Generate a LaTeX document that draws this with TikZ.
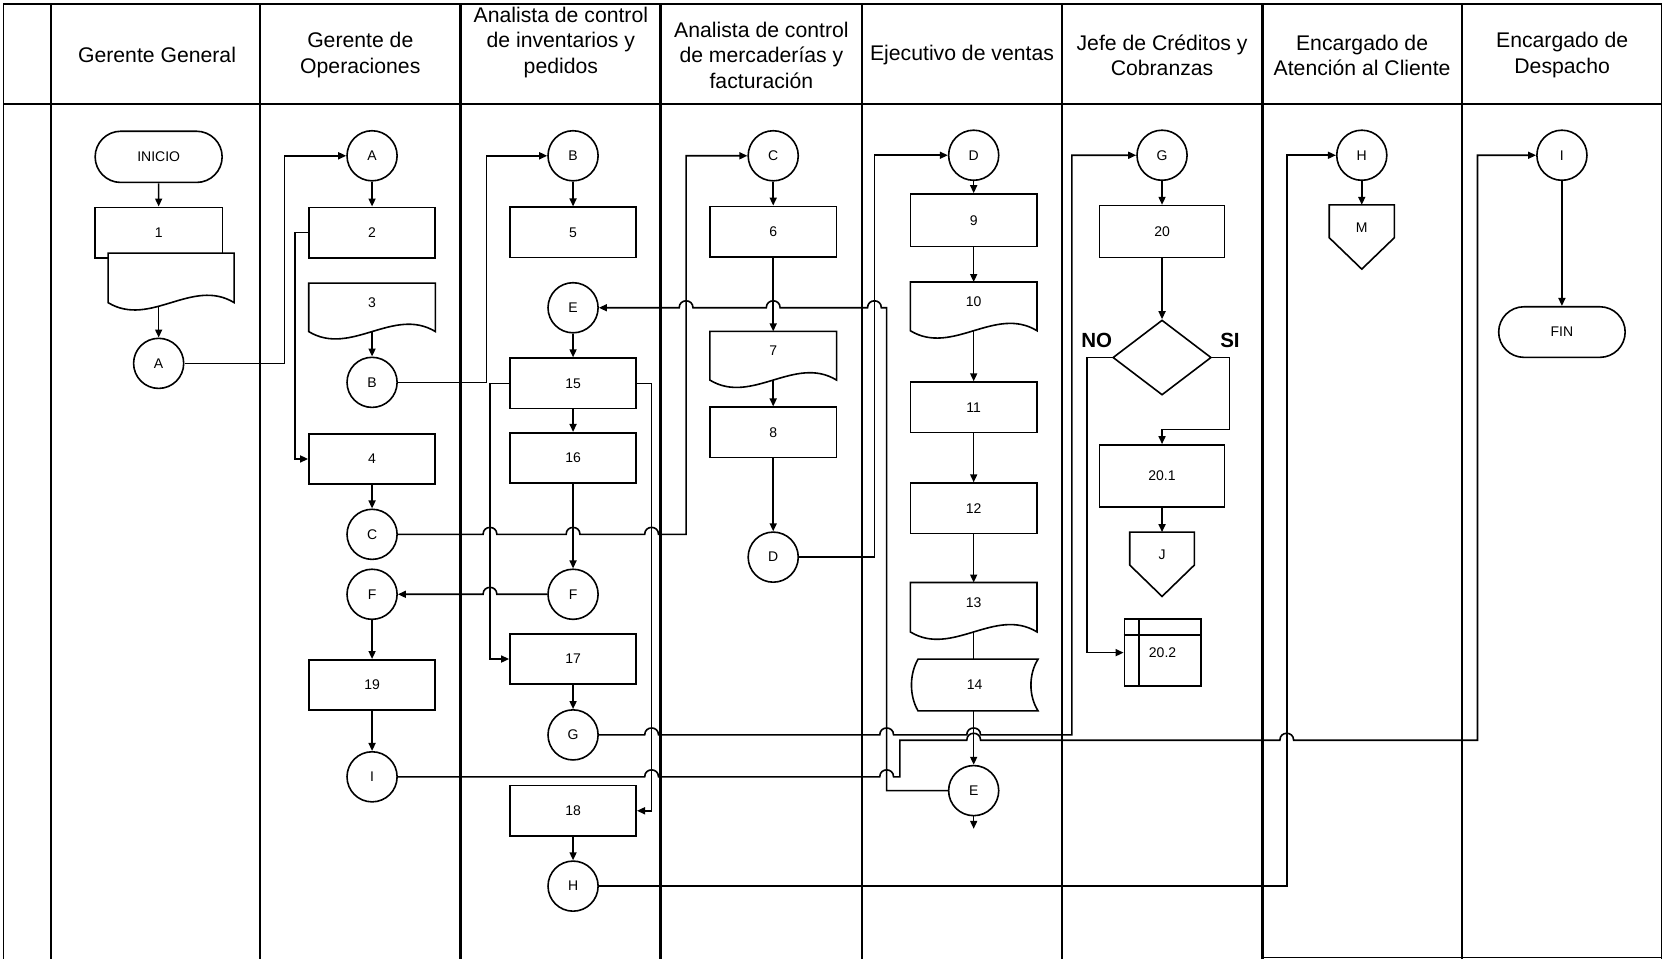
\documentclass[tikz,border=0pt]{standalone}
\usepackage{fontspec}
\setmainfont{Liberation Sans}
\usetikzlibrary{arrows.meta,shapes.geometric,shapes.misc,calc}

% outline of a document symbol drawn on a named placeholder node
\newcommand\docoutline[2][]{\draw[outline,#1] (#2.north west) -- (#2.north east) -- (#2.south east)
  .. controls ($(#2.south east)+(-39.5,-24)$) and ($(#2.south west)+(39.5,24)$) .. (#2.south west) -- cycle;}
% off-page connector (pentagon pointing down)
\newcommand\offpage[1]{\draw[outline] (#1.north west) -- (#1.north east) -- ($(#1.north east)+(0,31)$)
  -- ($(#1.north)+(0,60.6)$) -- ($(#1.north west)+(0,31)$) -- cycle;}

\begin{document}
\begin{tikzpicture}[x=1.0612pt,y=-1.0612pt,
  lanerule/.style={line width=2.4pt},
  thinrule/.style={line width=1.1pt},
  outline/.style={line width=1.6pt},
  conn/.style={line width=1.6pt},
  arr/.style={conn,-{Triangle[length=8pt,width=7pt]}},
  lbl/.style={font=\fontsize{14}{16}\selectfont},
  head/.style={align=center,font=\fontsize{21.2}{25.5}\selectfont,inner sep=0pt},
  proc/.style={draw,rectangle,line width=1.6pt,minimum width=126.3pt,minimum height=50.4pt,inner sep=0pt,lbl},
  conec/.style={draw,circle,line width=1.6pt,minimum size=50.1pt,inner sep=0pt,lbl},
  term/.style={draw,rounded rectangle,line width=1.6pt,minimum width=127pt,minimum height=51.2pt,inner sep=0pt,lbl},
  ghost/.style={rectangle,inner sep=0pt,lbl},
  docbox/.style={ghost,minimum width=126.3pt,minimum height=48.3pt},
  hopr/.style 2 args={insert path={-- ({#1-6.5},#2) .. controls ({#1-6.5},{#2-8.7}) and ({#1+6.5},{#2-8.7}) .. ({#1+6.5},#2)}},
  hopl/.style 2 args={insert path={-- ({#1+6.5},#2) .. controls ({#1+6.5},{#2-8.7}) and ({#1-6.5},{#2-8.7}) .. ({#1-6.5},#2)}},
]
\useasboundingbox (0,0) rectangle (1568,904);

% ---------- swimlane frame ----------
\draw[lanerule] (3,4) -- (1566,4);
\draw[lanerule] (3,98) -- (1566,98);
\draw[thinrule] (3,4) -- (3,904);
\foreach \x in {48,245,434,622.5,812,1000.5,1189.5,1377.5}
  \draw[lanerule] (\x,4) -- (\x,904);
\draw[thinrule] (1566,4) -- (1566,904);
\draw[line width=0.8pt] (1189.5,902) -- (1566,902);

% ---------- lane headers ----------
\node[head] (h1) at (148,52) {Gerente General};
\node[head] (h2) at (339.5,52) {Gerente de\\Operaciones};
\node[head] (h3) at (528.5,40) {Analista de control\\de inventarios y\\pedidos};
\node[head] (h4) at (717.5,52) {Analista de control\\de mercaderías y\\facturación};
\node[head] (h5) at (906.5,52) {Ejecutivo de ventas};
\node[head] (h6) at (1095,52) {Jefe de Créditos y\\Cobranzas};
\node[head] (h7) at (1283.5,52) {Encargado de\\Atención al Cliente};
\node[head] (h8) at (1472,52) {Encargado de\\Despacho};

% ---------- Gerente General ----------
\node[term] (ini) at (149.5,147.8) {INICIO};
\node[proc,minimum width=127.3pt] (p1) at (149.5,219.1) {1};
\node[ghost,minimum width=125.7pt,minimum height=49.1pt] (d1) at (161.25,261.85) {};
\docoutline[fill=white]{d1}
\coordinate (d1out) at (149.5,288.4);
\node[conec] (cA1) at (149.5,342.4) {A};

% ---------- Gerente de Operaciones ----------
\node[conec] (cA2) at (350.6,146.8) {A};
\node[proc] (p2) at (350.6,219.1) {2};
\node[docbox,minimum height=48.1pt,label={[lbl,yshift=4.6pt]center:3}] (d3) at (350.6,289.6) {};
\docoutline{d3}
\node[conec] (cB2) at (350.6,360.3) {B};
\node[proc] (p4) at (350.6,432.5) {4};
\node[conec] (cC2) at (350.6,503.5) {C};
\node[conec] (cF2) at (350.6,560) {F};
\node[proc] (p19) at (350.6,645.5) {19};
\node[conec] (cI2) at (350.6,732) {I};

% ---------- Analista de control de inventarios y pedidos ----------
\node[conec] (cB3) at (540,146.8) {B};
\node[proc] (p5) at (540,219) {5};
\node[conec] (cE3) at (540,290) {E};
\node[proc] (p15) at (540,361.2) {15};
\node[proc] (p16) at (540,431.5) {16};
\node[conec] (cF3) at (540,560) {F};
\node[proc] (p17) at (540,621) {17};
\node[conec] (cG3) at (540,692.5) {G};
\node[proc] (p18) at (540,764) {18};
\node[conec] (cH3) at (540,835) {H};

% ---------- Analista de control de mercaderias y facturacion ----------
\node[conec] (cC4) at (728.6,146.8) {C};
\node[proc] (p6) at (728.6,218.2) {6};
\node[docbox,label={[lbl,yshift=4.6pt]center:7}] (d7) at (728.6,335.2) {};
\docoutline{d7}
\node[proc] (p8) at (728.6,407.5) {8};
\node[conec] (cD4) at (728.6,525) {D};

% ---------- Ejecutivo de ventas ----------
\node[conec] (cD5) at (917.5,146.3) {D};
\node[proc,minimum height=52.6pt] (p9) at (917.5,207.6) {9};
\node[docbox,label={[lbl,yshift=4.6pt]center:10}] (d10) at (917.5,288.7) {};
\docoutline{d10}
\node[proc] (p11) at (917.5,383.8) {11};
\node[proc] (p12) at (917.5,479) {12};
\node[docbox,minimum height=49pt,label={[lbl,yshift=4.6pt]center:13}] (d13) at (917.5,572.2) {};
\docoutline{d13}
\node[ghost,minimum width=126.3pt,minimum height=51.4pt] (s14) at (918.5,645.5) {14};
\draw[outline] ($(s14.north west)+(6.3,0)$) -- (s14.north east)
  .. controls ($(s14.north east)+(-9,14)$) and ($(s14.south east)+(-9,-14)$) .. (s14.south east)
  -- ($(s14.south west)+(6.3,0)$)
  .. controls ($(s14.south west)+(-2,-14)$) and ($(s14.north west)+(-2,14)$) .. ($(s14.north west)+(6.3,0)$) -- cycle;
\node[conec] (cE5) at (917.5,745) {E};
\coordinate (e5out) at (917.5,781);

% ---------- Jefe de Creditos y Cobranzas ----------
\node[conec] (cG6) at (1095,146.3) {G};
\node[proc,minimum width=124.9pt,minimum height=51.7pt] (p20) at (1095,218.1) {20};
\node[draw,diamond,line width=1.6pt,minimum width=98.4pt,minimum height=75pt,inner sep=0pt] (dec) at (1095,336.9) {};
\node[font=\fontsize{20.5}{22}\selectfont\bfseries] (lno) at (1033.5,320.4) {NO};
\node[font=\fontsize{20.5}{22}\selectfont\bfseries] (lsi) at (1159,320.4) {SI};
\node[proc,minimum width=124.9pt,minimum height=62.3pt] (p201) at (1095,448.6) {20.1};
\node[ghost,minimum width=64.3pt,minimum height=45.4pt] (offJ) at (1095,523) {J};
\offpage{offJ}
\node[draw,rectangle,line width=1.6pt,minimum width=76.4pt,minimum height=66.9pt,inner sep=0pt,lbl] (st202) at (1095.5,615) {20.2};
\draw[outline] ($(st202.north west)+(0,15.7)$) -- ($(st202.north east)+(0,15.7)$);
\draw[outline] ($(st202.north west)+(14.8,0)$) -- ($(st202.south west)+(14.8,0)$);

% ---------- Encargado de Atencion al Cliente ----------
\node[conec] (cH7) at (1283.2,146.3) {H};
\node[ghost,minimum width=64.7pt,minimum height=46.3pt] (offM) at (1283.2,215) {M};
\offpage{offM}

% ---------- Encargado de Despacho ----------
\node[conec] (cI8) at (1471.8,146.3) {I};
\node[term,minimum width=126.5pt,minimum height=50.6pt] (fin) at (1471.8,312.9) {FIN};

% ---------- bend points of the connectors ----------
\coordinate (kA) at (268,250);
\coordinate (k24) at (278,300);
\coordinate (kB) at (458.6,250);
\coordinate (kC) at (646.5,300);
\coordinate (k1517) at (461.7,500);
\coordinate (k1518) at (614,500);
\coordinate (kD) at (824,300);
\coordinate (kE) at (835.5,500);
\coordinate (kEt) at (835.5,290);
\coordinate (kG) at (1010,400);
\coordinate (kIa) at (848,732);
\coordinate (kIb) at (848,697.5);
\coordinate (kI) at (1392.2,400);
\coordinate (kH) at (1212.5,400);
\coordinate (kNO) at (1024,450);
\coordinate (kSI) at (1158.5,404.6);

% ---------- flow inside the lanes ----------
\draw[arr] (ini) -- (p1);
\draw[arr] (d1out) -- (cA1.north);
\draw[arr] (cA2) -- (p2);
\draw[arr] (d3.south) -- (cB2.north);
\draw[arr] (p4) -- (cC2);
\draw[arr] (cF2) -- (p19);
\draw[arr] (p19) -- (cI2);
\draw[arr] (cB3) -- (p5);
\draw[arr] (cE3) -- (p15);
\draw[arr] (p15) -- (p16);
\draw[arr] (p16) -- (cF3);
\draw[arr] (p17) -- (cG3);
\draw[arr] (p18) -- (cH3);
\draw[arr] (cC4) -- (p6);
\draw[arr] (p6) -- (d7.north);
\draw[arr] (d7.south) -- (p8.north);
\draw[arr] (p8) -- (cD4);
\draw[arr] (cD5) -- (p9);
\draw[arr] (p9) -- (d10.north);
\draw[arr] (d10.south) -- (p11.north);
\draw[arr] (p11) -- (p12);
\draw[arr] (p12) -- (d13.north);
\draw[conn] (d13.south) -- (d13.south |- s14.north);
\draw[arr] (cE5.north |- s14.south) -- (cE5.north);
\draw[arr] (cE5.south) -- (e5out);
\draw[arr] (cG6) -- (p20);
\draw[arr] (p20) -- (dec);
\draw[arr] (p201) -- (offJ.north);
\draw[arr] (cH7) -- (offM.north);
\draw[arr] (cI8.south) -- (cI8.south |- fin.north);

% ---------- connectors between lanes ----------
\draw[arr] (cA1.east) -| (kA) |- (cA2.west);
\draw[arr] (p2.west) -| (k24) |- (p4.west);
\draw[arr] (cB2.east) -| (kB) |- (cB3.west);
\draw[arr] (cC2.east) [hopr={461.7}{503.5}] [hopr={540}{503.5}] [hopr={614}{503.5}] -| (kC) |- (cC4.west);
\draw[arr] (cF3.west) [hopl={461.7}{560}] -- (cF2.east);
\draw[arr] (p15.west) -| (k1517) |- (p17.west);
\draw[arr] (p15.east) -| (k1518) |- (p18.east);
\draw[arr] (cD4.east) -| (kD) |- (cD5.west);
\draw[arr] (cE5.west) -| (kE) -- (kEt) [hopl={824}{290}] [hopl={728.6}{290}] [hopl={646.5}{290}] -- (cE3.east);
\draw[arr] (cG3.east) [hopr={614}{692.5}] [hopr={835.5}{692.5}] [hopr={917.5}{692.5}] -| (kG) |- (cG6.west);
\draw[arr] (cI2.east) [hopr={614}{732}] [hopr={835.5}{732}] -- (kIa) -- (kIb)
  [hopr={917.5}{697.5}] [hopr={1212.5}{697.5}] -| (kI) |- (cI8.west);
\draw[arr] (cH3.east) -| (kH) |- (cH7.west);
\draw[arr] (dec.west) -| (kNO) |- (st202.west);
\draw[arr] (dec.east) -| (kSI) -| (p201.north);

\end{tikzpicture}
\end{document}
